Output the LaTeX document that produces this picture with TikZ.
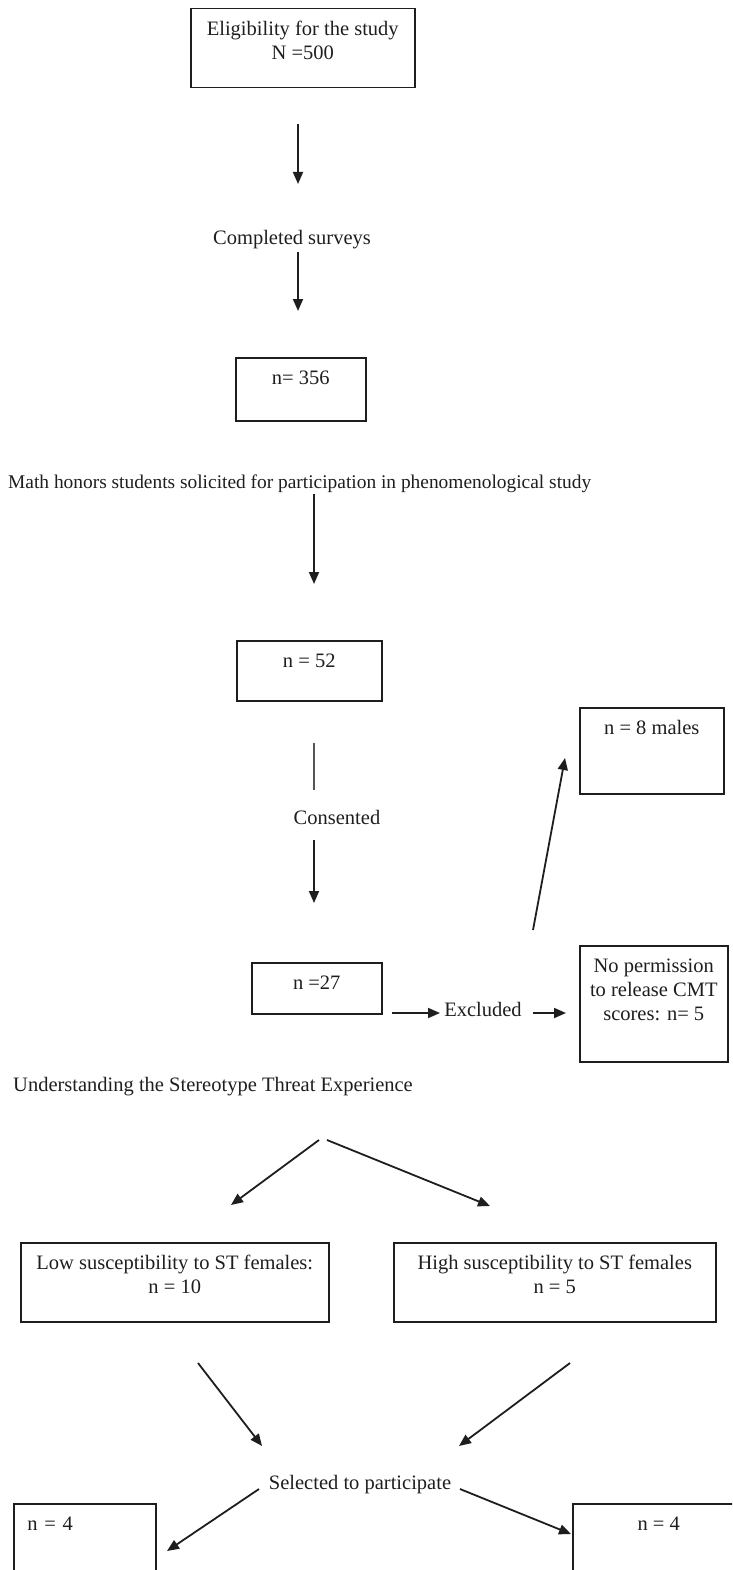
\documentclass[tikz,border=0pt]{standalone}
\usepackage{fontspec}
\setmainfont{Liberation Serif}
\usepackage{tikz}
\usetikzlibrary{arrows.meta}
\definecolor{ink}{HTML}{1E1E1E}
\definecolor{rulegray}{HTML}{555555}
\newcommand{\flowfont}{\fontsize{20.5}{24}\selectfont}
\tikzset{
  box/.style={draw=ink, line width=1.5pt, inner xsep=0pt, inner ysep=11pt, text height=16pt, align=center, font=\flowfont, text=ink, anchor=north west},
  twoline/.style={text height=40pt, text depth=17pt},
  lab/.style={text=ink, font=\flowfont, inner sep=0pt},
  arr/.style={draw=ink, line width=1.8pt, -{Triangle[length=12pt,width=10pt]}},
  rule/.style={draw=rulegray, line width=1.3pt},
}

\begin{document}
\begin{tikzpicture}[x=1pt, y=-1pt]
  \useasboundingbox (0,0) rectangle (732,1570);
  \clip (0,0) rectangle (732,1570);

  % survey part
  \node[box, twoline, minimum width=224pt] (elig) at (190,8) {Eligibility for the study\\N =500};
  \node[lab] (surv) at (292,240) {Completed surveys};
  \node[box, minimum width=130pt, text depth=25pt] (n356) at (235,357) {n= 356};
  \coordinate (a1s) at (298,124);
  \coordinate (a1e) at (298,184);
  \coordinate (a2s) at (298,252);
  \coordinate (a2e) at (298,311);
  \draw[arr] (a1s) -- (a1e);
  \draw[arr] (a2s) -- (a2e);

  % honors students
  \node[lab, anchor=west, font=\fontsize{19.4}{24}\selectfont] (honors) at (8,484) {Math honors students solicited for participation in phenomenological study};
  \node[box, minimum width=145pt, text depth=22pt] (n52) at (236,640) {n = 52};
  \node[lab] (cons) at (337,817) {Consented};
  \node[box, minimum width=130pt, text depth=13pt] (n27) at (251,962) {n =27};
  \node[box, minimum width=144pt, text depth=48pt] (males) at (579,707) {n = 8 males};
  \node[lab] (excl) at (483,1009) {Excluded};
  \node[box, minimum width=148pt, text height=64pt, text depth=30pt] (noperm) at (579,945) {No permission\\to release CMT\\scores: n= 5};
  \coordinate (a3s) at (314,494);
  \coordinate (a3e) at (314,584);
  \coordinate (l1s) at (314,743);
  \coordinate (l1e) at (314,790);
  \coordinate (a4s) at (314,840);
  \coordinate (a4e) at (314,903);
  \coordinate (e1s) at (392,1013);
  \coordinate (e1e) at (440,1013);
  \coordinate (e2s) at (533,1013);
  \coordinate (e2e) at (566,1013);
  \coordinate (ups) at (533,930);
  \coordinate (upe) at (565,758);
  \draw[arr] (a3s) -- (a3e);
  \draw[rule] (l1s) -- (l1e);
  \draw[arr] (a4s) -- (a4e);
  \draw[arr] (e1s) -- (e1e);
  \draw[arr] (e2s) -- (e2e);
  \draw[arr] (ups) -- (upe);

  % stereotype threat part
  \node[lab, anchor=west] (under) at (13,1087) {Understanding the Stereotype Threat Experience};
  \node[box, twoline, minimum width=308pt] (low) at (20,1242) {Low susceptibility to ST females:\\n = 10};
  \node[box, twoline, minimum width=322pt] (high) at (393,1242) {High susceptibility to ST females\\n = 5};
  \node[lab] (sel) at (360,1485) {Selected to participate};
  \node[box, minimum width=142pt, text depth=59pt, align=left, text width=115pt] (pickl) at (13,1503) {n = 4};
  \node[box, minimum width=172pt, text depth=59pt] (pickr) at (572,1503) {n = 4};
  \coordinate (s1s) at (319,1140);
  \coordinate (s1e) at (231,1205);
  \coordinate (s2s) at (327,1140);
  \coordinate (s2e) at (490,1206);
  \coordinate (j1s) at (198,1363);
  \coordinate (j1e) at (262,1446);
  \coordinate (j2s) at (570,1363);
  \coordinate (j2e) at (459,1446);
  \coordinate (p1s) at (259,1489);
  \coordinate (p1e) at (167,1551);
  \coordinate (p2s) at (460,1489);
  \coordinate (p2e) at (571,1534);
  \draw[arr] (s1s) -- (s1e);
  \draw[arr] (s2s) -- (s2e);
  \draw[arr] (j1s) -- (j1e);
  \draw[arr] (j2s) -- (j2e);
  \draw[arr] (p1s) -- (p1e);
  \draw[arr] (p2s) -- (p2e);
\end{tikzpicture}
\end{document}
